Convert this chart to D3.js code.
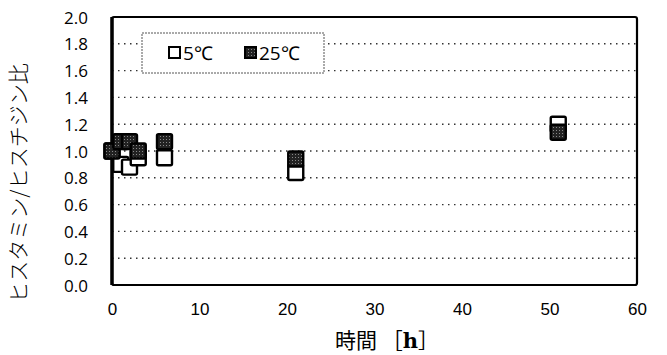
<!DOCTYPE html>
<html>
<head>
<meta charset="utf-8">
<script src="https://cdn.jsdelivr.net/npm/d3@7"></script>
<style>
body { margin: 0; background: #fff; }
svg text { fill: #000; }
</style>
</head>
<body>
<script>
// data
var hours = [0, 1, 2, 3, 6, 21, 51];
var ratio5 = [1.0, 0.90, 0.88, 0.95, 0.95, 0.84, 1.20];
var ratio25 = [1.0, 1.07, 1.07, 1.0, 1.07, 0.94, 1.14];
var xTicks = [0, 10, 20, 30, 40, 50, 60];
var yTicks = [0, 0.2, 0.4, 0.6, 0.8, 1.0, 1.2, 1.4, 1.6, 1.8, 2.0];
var seriesNames = ["5\u2103", "25\u2103"];

var width = 667, height = 355;
var margin = {top: 17, right: 30, bottom: 70, left: 112};

var svg = d3.select("body").append("svg")
  .attr("width", width)
  .attr("height", height);

var x = d3.scaleLinear().domain([0, 60]).range([margin.left, width - margin.right]);
var y = d3.scaleLinear().domain([0, 2.0]).range([height - margin.bottom, margin.top]);

// dotted gridlines
svg.append("g")
  .selectAll("line")
  .data(yTicks.slice(1, -1))
  .enter().append("line")
    .attr("x1", x(0)).attr("x2", x(60))
    .attr("y1", function(d) { return y(d); })
    .attr("y2", function(d) { return y(d); })
    .attr("stroke", "#333")
    .attr("stroke-width", 1.4)
    .attr("stroke-dasharray", "1.5,4.5");

// axes (labels only, frame drawn separately)
var yAxis = svg.append("g")
  .attr("transform", "translate(" + (x(0) - 21) + ",0)")
  .call(d3.axisLeft(y).tickValues(yTicks).tickFormat(d3.format(".1f")).tickSize(0));
yAxis.select(".domain").remove();
yAxis.selectAll("text")
  .attr("font-family", "'Open Sans', sans-serif")
  .attr("font-size", 17)
  .attr("dy", "0.36em");

var xAxis = svg.append("g")
  .attr("transform", "translate(0," + (y(0) + 12) + ")")
  .call(d3.axisBottom(x).tickValues(xTicks).tickSize(0));
xAxis.select(".domain").remove();
xAxis.selectAll("text")
  .attr("font-family", "'Liberation Sans', Arial, sans-serif")
  .attr("font-size", 17)
  .attr("dy", "0.9em");

// frame
svg.append("rect")
  .attr("x", x(0)).attr("y", y(2.0))
  .attr("width", x(60) - x(0))
  .attr("height", y(0) - y(2.0))
  .attr("rx", 2)
  .attr("fill", "none")
  .attr("stroke", "#000")
  .attr("stroke-width", 2.2);
svg.append("line")
  .attr("x1", x(0)).attr("x2", x(0))
  .attr("y1", y(2.0)).attr("y2", y(0))
  .attr("stroke", "#000").attr("stroke-width", 3.5);

// markers
var size = 15;
function drawSeries(vals, fill) {
  svg.append("g")
    .selectAll("rect")
    .data(hours.map(function(h, i) { return {h: h, v: vals[i]}; }))
    .enter().append("rect")
      .attr("x", function(d) { return x(d.h) - size / 2; })
      .attr("y", function(d) { return y(d.v) - size / 2; })
      .attr("width", size).attr("height", size)
      .attr("rx", 1.5)
      .attr("fill", fill)
      .attr("stroke", "#000")
      .attr("stroke-width", 2.4);
}

// halftone-like dark fill for the 25C series
var defs = svg.append("defs");
var pat = defs.append("pattern")
  .attr("id", "dots")
  .attr("width", 3).attr("height", 3)
  .attr("patternUnits", "userSpaceOnUse");
pat.append("rect").attr("width", 3).attr("height", 3).attr("fill", "#222");
pat.append("rect").attr("x", 1).attr("y", 1).attr("width", 1).attr("height", 1).attr("fill", "#888");

drawSeries(ratio5, "#fff");
drawSeries(ratio25, "url(#dots)");

// legend
var lg = svg.append("g").attr("transform", "translate(142,33)");
lg.append("rect")
  .attr("width", 182).attr("height", 40)
  .attr("fill", "#fff")
  .attr("stroke", "#555")
  .attr("stroke-width", 1)
  .attr("stroke-dasharray", "2,1");
var items = [{name: seriesNames[0], fill: "#fff", x: 27}, {name: seriesNames[1], fill: "url(#dots)", x: 103}];
items.forEach(function(it) {
  lg.append("rect")
    .attr("x", it.x).attr("y", 14)
    .attr("width", 11).attr("height", 11)
    .attr("fill", it.fill)
    .attr("stroke", "#000").attr("stroke-width", 2);
  lg.append("text")
    .attr("x", it.x + 14).attr("y", 27)
    .attr("font-family", "'Open Sans', sans-serif")
    .attr("font-size", 19)
    .text(it.name);
});

// axis titles
svg.append("text")
  .attr("transform", "translate(26," + ((y(0) + y(2.0)) / 2 + 32) + ") rotate(-90)")
  .attr("text-anchor", "middle")
  .attr("font-family", "'Noto Sans CJK JP', sans-serif")
  .attr("font-weight", 300)
  .attr("font-size", 21)
  .text("ヒスタミン/ヒスチジン比");

var xt = svg.append("text")
  .attr("x", 387).attr("y", 348)
  .attr("text-anchor", "middle")
  .attr("font-size", 21);
xt.append("tspan").attr("font-family", "'Noto Sans CJK JP', sans-serif").text("時間 ［");
xt.append("tspan").attr("font-family", "'DejaVu Serif', serif").attr("font-weight", "bold").text("h");
xt.append("tspan").attr("font-family", "'Noto Sans CJK JP', sans-serif").text("］");
</script>
</body>
</html>
